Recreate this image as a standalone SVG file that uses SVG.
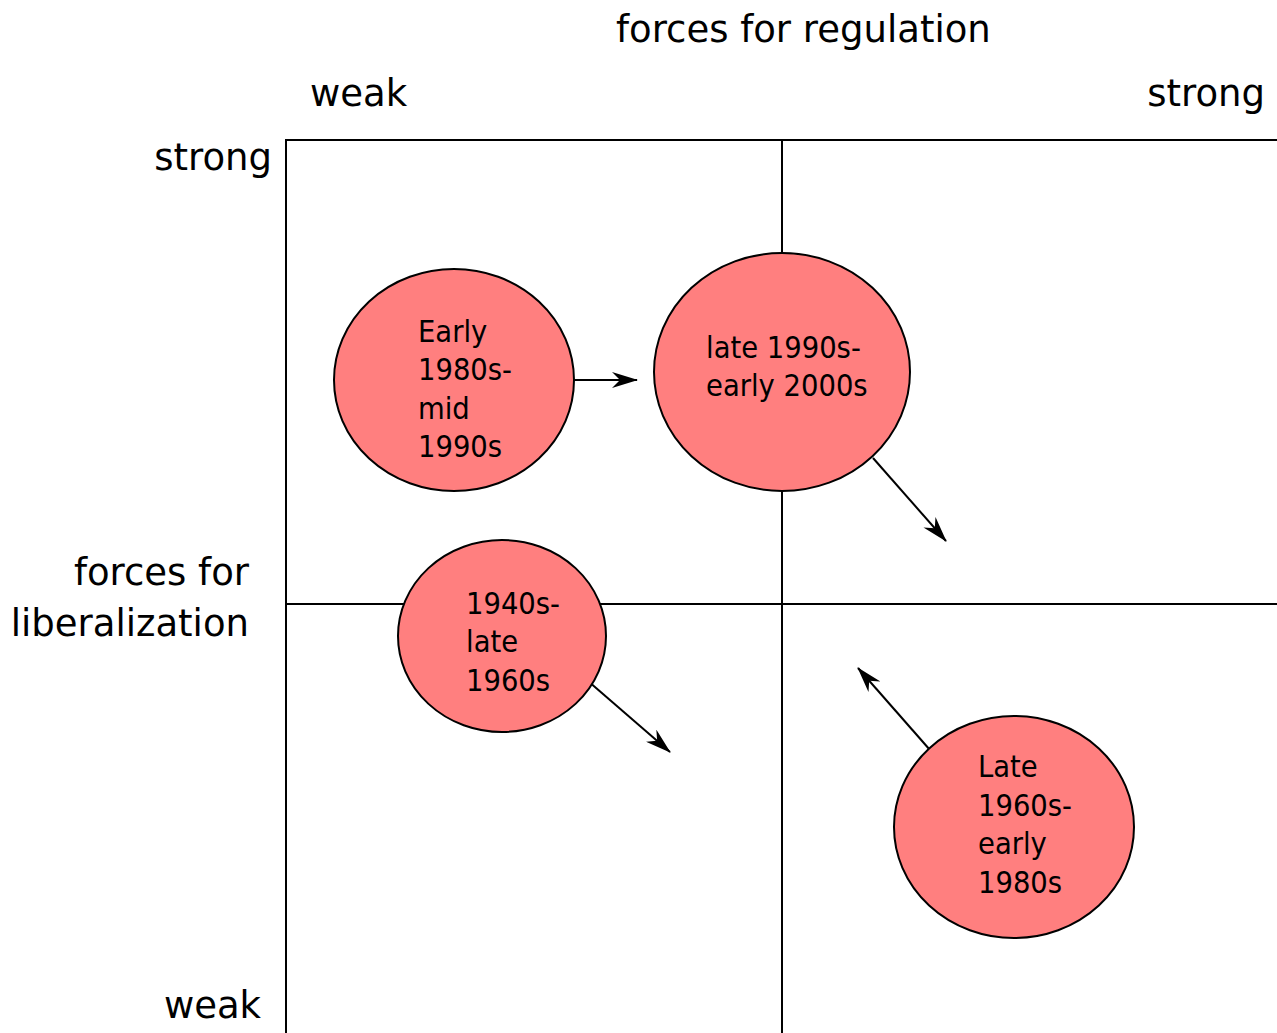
<svg xmlns="http://www.w3.org/2000/svg" width="1277" height="1033" viewBox="0 0 1277 1033">
<defs>
<style>
.t{font-family:"DejaVu Sans Condensed","DejaVu Sans",sans-serif;fill:#000}
.ax{font-family:"DejaVu Sans",sans-serif;font-size:37px}
.nd{font-size:30.5px}
.ln{stroke:#000;stroke-width:2;fill:none}
.el{fill:#FF7F7F;stroke:#000;stroke-width:2}
.ar{stroke:#000;stroke-width:2;fill:none;marker-end:url(#ah)}
</style>
<marker id="ah" viewBox="0 0 26 16" refX="25" refY="8" markerWidth="26" markerHeight="16" markerUnits="userSpaceOnUse" orient="auto">
<path d="M0,0 L26,8 L0,16 L8,8 Z" fill="#000"/>
</marker>
</defs>
<rect width="1277" height="1033" fill="#fff"/>
<g id="axes">
<path class="ln" d="M286,1033 V140 H1277"/>
<path class="ln" d="M782,140 V1033"/>
<path class="ln" d="M286,604 H1277"/>
</g>
<g id="labels" class="t ax">
<text x="616" y="42">forces for regulation</text>
<text x="310" y="106">weak</text>
<text x="1265" y="106" text-anchor="end">strong</text>
<text x="272" y="170" text-anchor="end">strong</text>
<text x="249" y="585" text-anchor="end">forces for</text>
<text x="249" y="636" text-anchor="end">liberalization</text>
<text x="261" y="1018" text-anchor="end">weak</text>
</g>
<g id="connectors">
<path class="ar" d="M574,380 H637"/>
<path class="ar" d="M873,458 L946,541"/>
<path class="ar" d="M588,681 L670,752"/>
<path class="ar" d="M930,750 L858,668"/>
</g>
<g id="n1">
<ellipse class="el" cx="454" cy="380" rx="120" ry="111"/>
<text class="t nd" x="418" y="342">Early</text>
<text class="t nd" x="418" y="380">1980s-</text>
<text class="t nd" x="418" y="419">mid</text>
<text class="t nd" x="418" y="457">1990s</text>
</g>
<g id="n2">
<ellipse class="el" cx="782" cy="372" rx="128" ry="119"/>
<text class="t nd" x="706" y="358">late 1990s-</text>
<text class="t nd" x="706" y="396">early 2000s</text>
</g>
<g id="n3">
<ellipse class="el" cx="502" cy="636" rx="104" ry="96"/>
<text class="t nd" x="466" y="614">1940s-</text>
<text class="t nd" x="466" y="652">late</text>
<text class="t nd" x="466" y="691">1960s</text>
</g>
<g id="n4">
<ellipse class="el" cx="1014" cy="827" rx="120" ry="111"/>
<text class="t nd" x="978" y="777">Late</text>
<text class="t nd" x="978" y="816">1960s-</text>
<text class="t nd" x="978" y="854">early</text>
<text class="t nd" x="978" y="893">1980s</text>
</g>
</svg>
